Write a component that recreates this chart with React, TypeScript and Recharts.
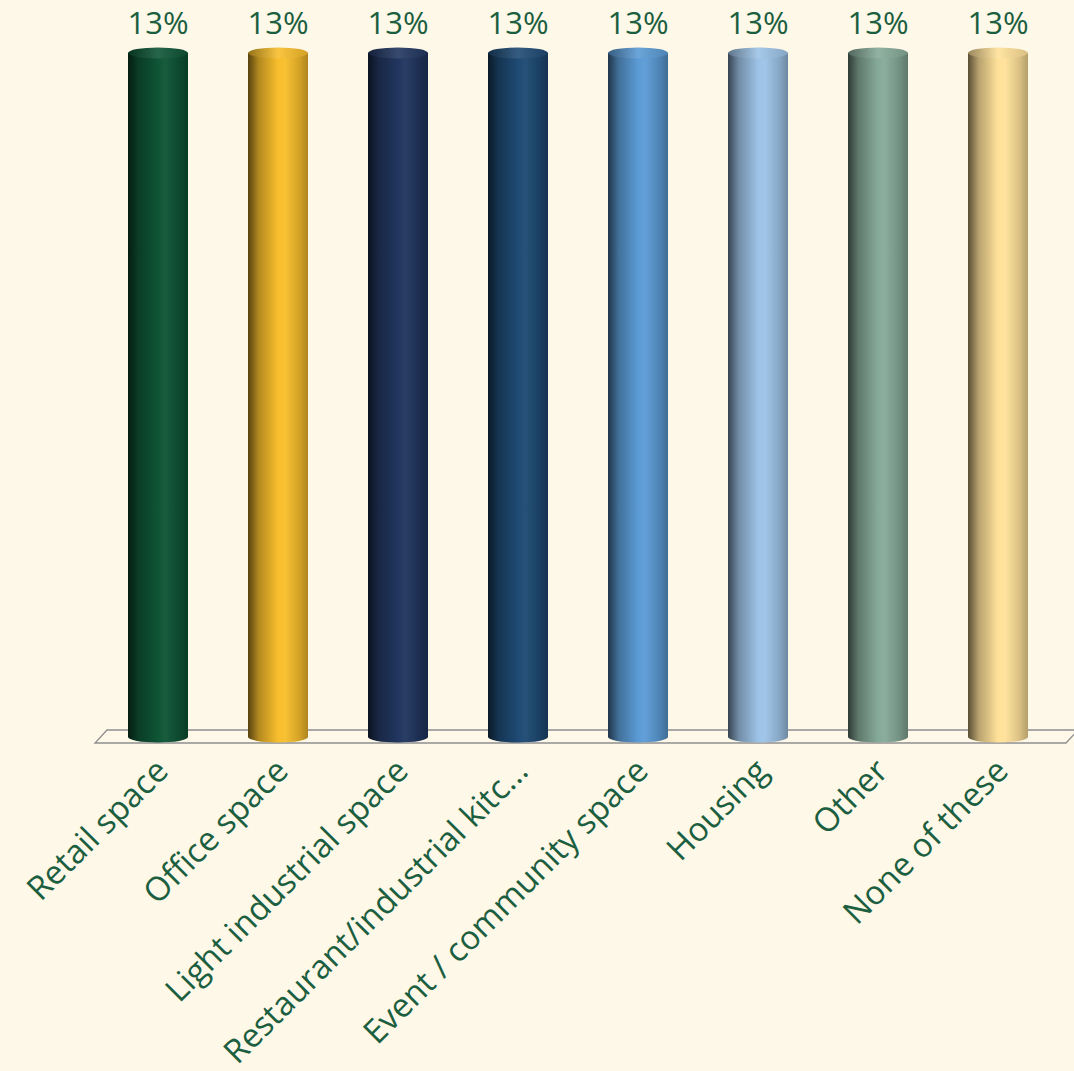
import React from 'react';
import * as R from 'recharts';
import { BarChart, Bar, XAxis, YAxis, LabelList } from 'recharts';

const categories = [
  'Retail space',
  'Office space',
  'Light industrial space',
  'Restaurant/industrial kitc...',
  'Event / community space',
  'Housing',
  'Other',
  'None of these',
];
const values = [13, 13, 13, 13, 13, 13, 13, 13];
const barColors = ['#0E5535', '#F8BE2C', '#21365F', '#1E4A73', '#5B9BD5', '#9DC3E6', '#86AA99', '#FFE199'];

const data = categories.map((name, i) => ({ name, value: values[i], color: barColors[i] }));

const BG = '#FEF8E8';
const TEXT = '#1B5E40';
const FONT = '"Open Sans", "Liberation Sans", Arial, sans-serif';

function shade(hex: string, f: number) {
  const n = parseInt(hex.slice(1), 16);
  const ch = [(n >> 16) & 255, (n >> 8) & 255, n & 255].map((c) => {
    const v = f <= 1 ? c * f : c + (255 - c) * (f - 1);
    return Math.max(0, Math.min(255, Math.round(v)));
  });
  return `rgb(${ch[0]},${ch[1]},${ch[2]})`;
}

function Cylinder(props: any) {
  const { x, y, width, height, index, payload } = props;
  const color = payload?.color ?? barColors[index] ?? '#888';
  const id = `cyl-grad-${index}`;
  const idTop = `cyl-top-${index}`;
  const ry = 5.5;
  const cx = x + width / 2;
  return (
    <g>
      <defs>
        <linearGradient id={id} x1="0" y1="0" x2="1" y2="0">
          <stop offset="0%" stopColor={shade(color, 0.35)} />
          <stop offset="18%" stopColor={shade(color, 0.72)} />
          <stop offset="50%" stopColor={shade(color, 1.0)} />
          <stop offset="62%" stopColor={shade(color, 1.04)} />
          <stop offset="85%" stopColor={shade(color, 0.86)} />
          <stop offset="100%" stopColor={shade(color, 0.7)} />
        </linearGradient>
        <linearGradient id={idTop} x1="0" y1="0" x2="1" y2="0">
          <stop offset="0%" stopColor={shade(color, 0.6)} />
          <stop offset="50%" stopColor={shade(color, 1.1)} />
          <stop offset="100%" stopColor={shade(color, 0.85)} />
        </linearGradient>
      </defs>
      <ellipse cx={cx} cy={y + height} rx={width / 2} ry={ry} fill={`url(#${id})`} />
      <rect x={x} y={y} width={width} height={height} fill={`url(#${id})`} />
      <ellipse cx={cx} cy={y} rx={width / 2} ry={ry} fill={`url(#${idTop})`} />
    </g>
  );
}

function ValueLabel(props: any) {
  const { x, y, width, value } = props;
  return (
    <text x={x + width / 2} y={y - 19} textAnchor="middle" fill={TEXT} fontSize={31} fontFamily={FONT}>
      {`${value}%`}
    </text>
  );
}

function CategoryTick(props: any) {
  const { x, y, payload } = props;
  const ax = x + 12;
  const ay = y + 36;
  return (
    <text
      x={ax}
      y={ay}
      textAnchor="end"
      fill={TEXT}
      fontSize={33}
      fontFamily={FONT}
      transform={`rotate(-45, ${ax}, ${ay})`}
    >
      {payload.value}
    </text>
  );
}

function Floor() {
  const usePA = (R as any).usePlotArea;
  const pa = usePA ? usePA() : null;
  if (!pa) return null;
  const bx0 = pa.x - 3;
  const bx1 = pa.x + pa.width + 8;
  const by = pa.y + pa.height + 6;
  const ty = pa.y + pa.height - 7;
  const dx = 12;
  const pts = `${bx0},${by} ${bx1},${by} ${bx1 + dx},${ty} ${bx0 + dx},${ty}`;
  return <polygon points={pts} fill="none" stroke="#8E8E8E" strokeWidth={1.3} />;
}

export default function App() {
  return (
    <div style={{ position: 'absolute', left: 0, top: 0, width: 1074, height: 1071, background: BG, overflow: 'hidden' }}>
      <BarChart
        width={1074}
        height={1071}
        data={data}
        margin={{ top: 53, right: 16, bottom: 34, left: 98 }}
        barCategoryGap={60}
      >
        <Floor />
        <XAxis
          dataKey="name"
          axisLine={false}
          tickLine={false}
          tickSize={0}
          tickMargin={0}
          interval={0}
          height={300}
          tick={<CategoryTick />}
        />
        <YAxis hide domain={[0, 13]} />
        <Bar dataKey="value" barSize={60} shape={<Cylinder />} isAnimationActive={false}>
          <LabelList dataKey="value" content={<ValueLabel />} />
        </Bar>
      </BarChart>
    </div>
  );
}
